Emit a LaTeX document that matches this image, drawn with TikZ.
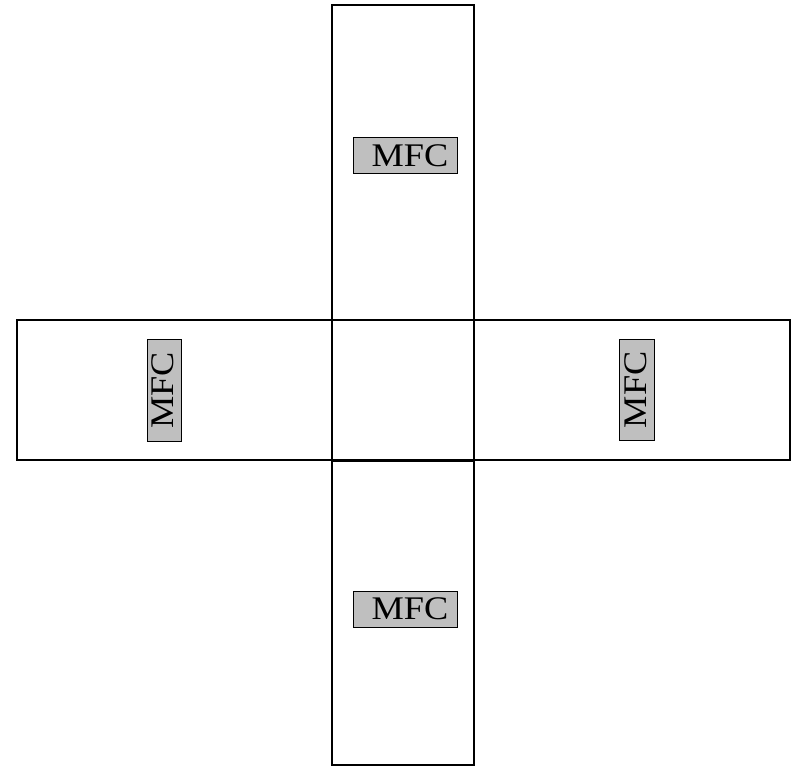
\documentclass[tikz,border=0pt]{standalone}
\usepackage{fontspec}
\setmainfont{Liberation Serif}
\usepackage{xcolor}
\definecolor{gris75}{gray}{.75}
\usepackage{tikz}
\usetikzlibrary{positioning}

\newcommand{\mfc}{\scalebox{1.1}[1]{MFC}}

\begin{document}
\begin{tikzpicture}[
    x=1pt, y=-1pt,
    font=\fontsize{33}{33}\selectfont,
    arm/.style={rectangle, draw=black, line width=1.1pt,
      inner sep=0pt, outer sep=0pt},
    mfcbox/.style={rectangle, draw=black, line width=1pt, fill=gris75,
      inner sep=0pt, outer sep=0pt, minimum width=104, minimum height=36}
  ]
    \useasboundingbox (0,0) rectangle (795,766);
    % cross
    \node[arm, minimum width=142, minimum height=760] (vbar) at (403,385) {};
    \node[arm, minimum width=773, minimum height=140] (hbar) at (403.5,390) {};
    \node[arm, minimum width=142, minimum height=141] (core) at (403,390.5) {};
    % flow controllers
    \node[mfcbox] (mfctop) at (405.3,155.7) {\hspace{9.4pt}\raisebox{1pt}{\mfc}};
    \node[mfcbox] (mfcbot) at (405.3,609.5) {\hspace{9.4pt}\raisebox{1pt}{\mfc}};
    \node[mfcbox, minimum width=102, minimum height=34, rotate=90]
      (mfcleft) at (164.5,390.5) {\raisebox{3pt}{\mfc}\hspace{21pt}};
    \node[mfcbox, minimum width=101, minimum height=35, rotate=90]
      (mfcright) at (637,389.7) {\raisebox{3pt}{\mfc}\hspace{19pt}};
  \end{tikzpicture}
\end{document}
